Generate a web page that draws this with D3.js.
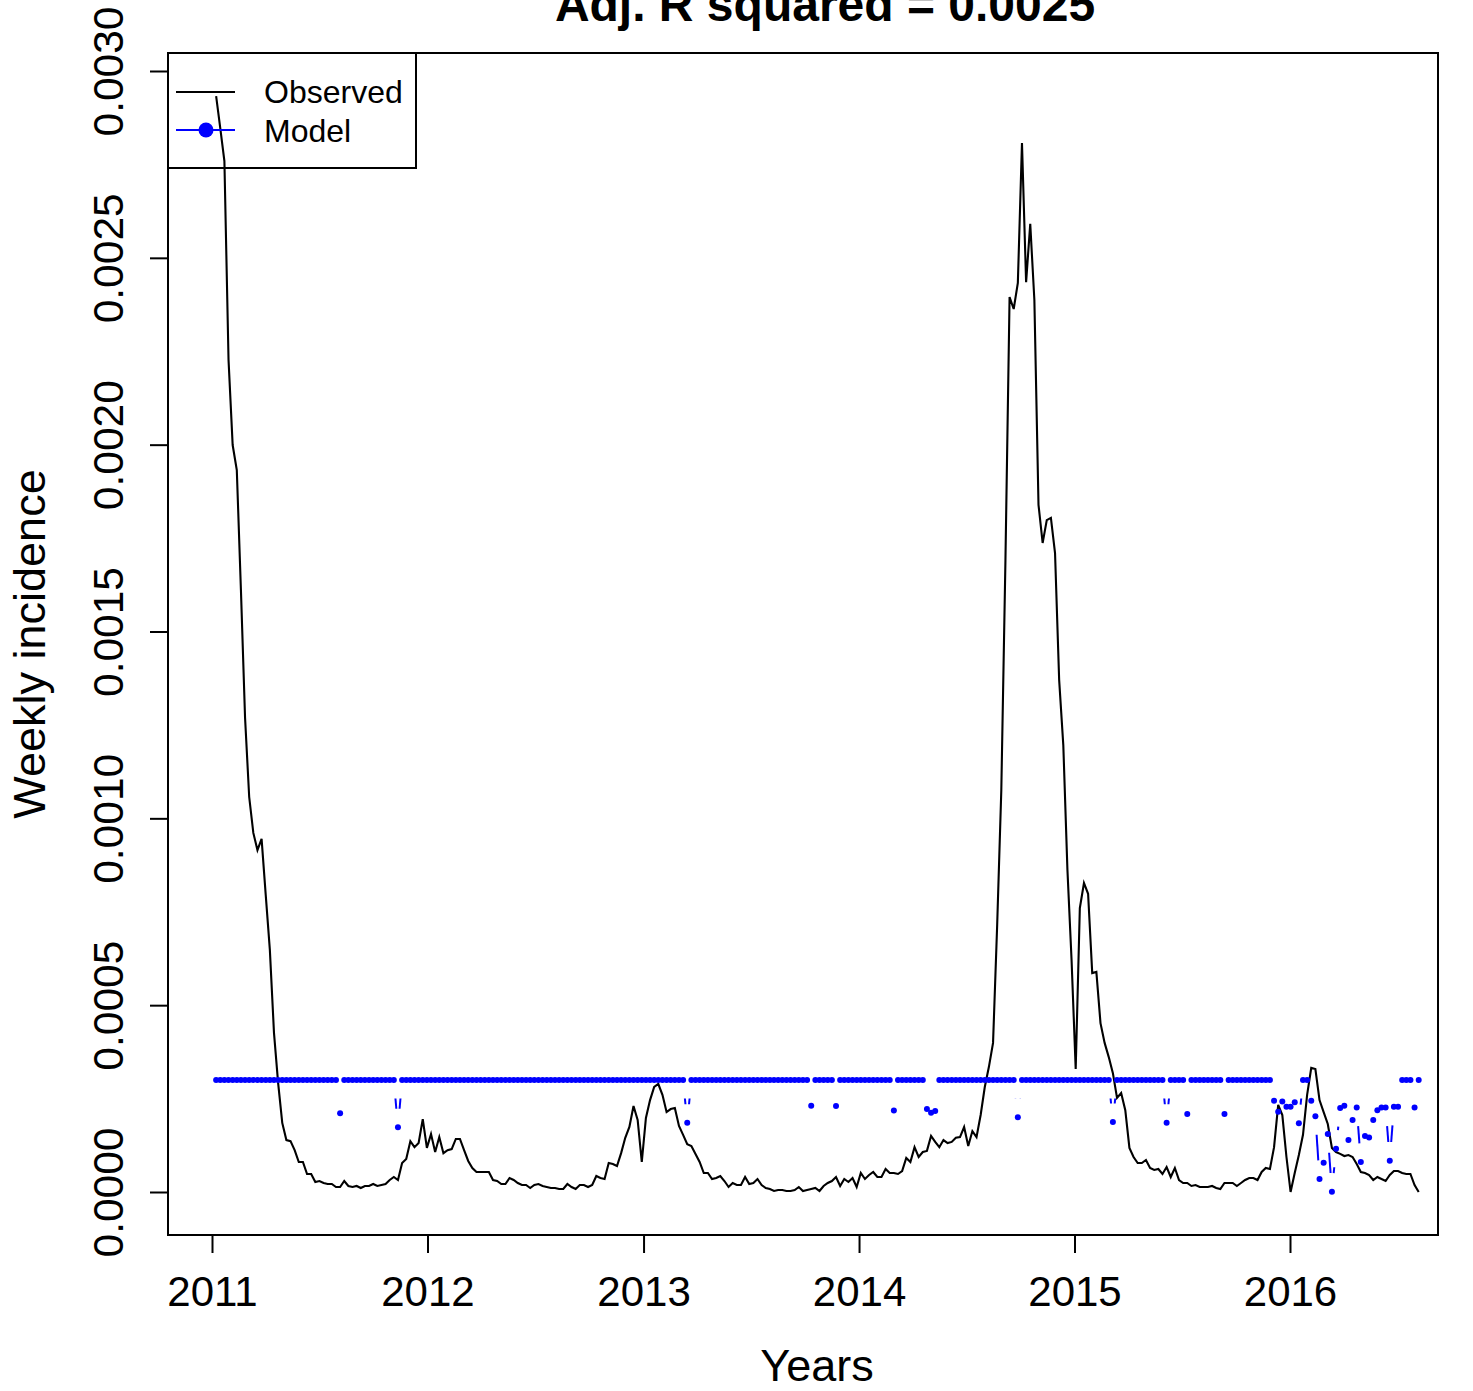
<!DOCTYPE html>
<html>
<head>
<meta charset="utf-8">
<script src="https://cdn.jsdelivr.net/npm/d3@7"></script>
<style>
  html, body { margin: 0; padding: 0; background: #fff; }
  svg { display: block; font-family: "Liberation Sans", Arial, Helvetica, sans-serif; }
</style>
</head>
<body>
<script>
// ---------------- data ----------------
const titleText = "Adj. R squared = 0.0025";
const xLabel = "Years";
const yLabel = "Weekly incidence";
const seriesNames = ["Observed", "Model"];
const firstWeek = "2011-01-08";           // first weekly observation
const yearTicks = [2011, 2012, 2013, 2014, 2015, 2016];
const yTicks = [0, 0.0005, 0.0010, 0.0015, 0.0020, 0.0025, 0.0030];

// weekly observed incidence (292 weeks)
const observed = [
  0.002933, 0.002847, 0.002759, 0.002227, 0.001999, 0.001932, 0.001611, 0.001269, 0.001057, 0.000961,
  0.000915, 0.000945, 0.000795, 0.000648, 0.000426, 0.000292, 0.000185, 0.000139, 0.000136, 0.000112,
  0.0000803, 0.0000803, 0.0000482, 0.0000482, 0.0000268, 0.0000294, 0.0000241, 0.0000214, 0.0000214, 0.0000134,
  0.0000134, 0.0000294, 0.0000161, 0.0000134, 0.0000161, 0.0000107, 0.0000161, 0.0000161, 0.0000214, 0.0000161,
  0.0000187, 0.0000214, 0.0000321, 0.0000401, 0.0000321, 0.0000776, 0.0000883, 0.000136, 0.000120, 0.000131,
  0.000195, 0.000118, 0.000155, 0.000107, 0.000147, 0.000104, 0.000112, 0.000115, 0.000142, 0.000142,
  0.000112, 0.0000830, 0.0000642, 0.0000535, 0.0000535, 0.0000535, 0.0000535, 0.0000321, 0.0000294, 0.0000214,
  0.0000214, 0.0000375, 0.0000321, 0.0000241, 0.0000187, 0.0000187, 0.0000107, 0.0000187, 0.0000214, 0.0000161,
  0.0000134, 0.0000107, 0.0000107, 0.0000080, 0.0000080, 0.0000214, 0.0000134, 0.0000080, 0.0000187, 0.0000187,
  0.0000134, 0.0000187, 0.0000428, 0.0000375, 0.0000348, 0.0000776, 0.0000749, 0.0000696, 0.000104, 0.000145,
  0.000174, 0.000230, 0.000193, 0.0000803, 0.000198, 0.000246, 0.000281, 0.000289, 0.000260, 0.000214,
  0.000222, 0.000225, 0.000177, 0.000153, 0.000128, 0.000123, 0.000102, 0.0000803, 0.0000508, 0.0000508,
  0.0000348, 0.0000375, 0.0000428, 0.0000294, 0.0000134, 0.0000241, 0.0000187, 0.0000187, 0.0000401, 0.0000214,
  0.0000241, 0.0000348, 0.0000187, 0.0000107, 0.0000080, 0.0000027, 0.0000054, 0.0000054, 0.0000027, 0.0000027,
  0.0000054, 0.0000134, 0.0000027, 0.0000054, 0.0000080, 0.0000107, 0.0000027, 0.0000161, 0.0000241, 0.0000294,
  0.0000401, 0.0000161, 0.0000348, 0.0000268, 0.0000375, 0.0000134, 0.0000508, 0.0000348, 0.0000455, 0.0000535,
  0.0000401, 0.0000401, 0.0000616, 0.0000508, 0.0000508, 0.0000482, 0.0000562, 0.0000910, 0.0000803, 0.000120,
  0.0000937, 0.000107, 0.000110, 0.000150, 0.000134, 0.000120, 0.000139, 0.000131, 0.000134, 0.000145,
  0.000147, 0.000174, 0.000123, 0.000163, 0.000147, 0.000206, 0.000281, 0.000335, 0.000399, 0.000715,
  0.001076, 0.001691, 0.002395, 0.002363, 0.002433, 0.002807, 0.002435, 0.002591, 0.002387, 0.001839,
  0.001737, 0.001798, 0.001804, 0.001710, 0.001370, 0.001196, 0.000862, 0.000621, 0.000329, 0.000760,
  0.000827, 0.000798, 0.000586, 0.000589, 0.000452, 0.000399, 0.000361, 0.000318, 0.000252, 0.000265,
  0.000219, 0.000118, 0.0000937, 0.0000776, 0.0000776, 0.0000856, 0.0000642, 0.0000589, 0.0000616, 0.0000482,
  0.0000669, 0.0000401, 0.0000642, 0.0000321, 0.0000241, 0.0000241, 0.0000161, 0.0000187, 0.0000134, 0.0000134,
  0.0000134, 0.0000161, 0.0000107, 0.0000080, 0.0000241, 0.0000241, 0.0000241, 0.0000161, 0.0000241, 0.0000321,
  0.0000375, 0.0000375, 0.0000321, 0.0000535, 0.0000642, 0.0000616, 0.000120, 0.000233, 0.000206, 0.0000937,
  0, 0.0000508, 0.0000990, 0.000153, 0.000260, 0.000332, 0.000329, 0.000246, 0.000214, 0.000182,
  0.000118, 0.000107, 0.000102, 0.0000963, 0.0000990, 0.0000937, 0.0000749, 0.0000535, 0.0000508, 0.0000455,
  0.0000321, 0.0000401, 0.0000348, 0.0000294, 0.0000455, 0.0000562, 0.0000562, 0.0000508, 0.0000482, 0.0000482,
  0.0000187, 0
];

// weekly model prediction (292 weeks)
const model = [
  3e-4, 3e-4, 3e-4, 3e-4, 3e-4, 3e-4, 3e-4, 3e-4, 3e-4, 3e-4,
  3e-4, 3e-4, 3e-4, 3e-4, 3e-4, 3e-4, 3e-4, 3e-4, 3e-4, 3e-4,
  3e-4, 3e-4, 3e-4, 3e-4, 3e-4, 3e-4, 3e-4, 3e-4, 3e-4, 3e-4,
  0.000211, 3e-4, 3e-4, 3e-4, 3e-4, 3e-4, 3e-4, 3e-4, 3e-4, 3e-4,
  3e-4, 3e-4, 3e-4, 3e-4, 0.000173, 3e-4, 3e-4, 3e-4, 3e-4, 3e-4,
  3e-4, 3e-4, 3e-4, 3e-4, 3e-4, 3e-4, 3e-4, 3e-4, 3e-4, 3e-4,
  3e-4, 3e-4, 3e-4, 3e-4, 3e-4, 3e-4, 3e-4, 3e-4, 3e-4, 3e-4,
  3e-4, 3e-4, 3e-4, 3e-4, 3e-4, 3e-4, 3e-4, 3e-4, 3e-4, 3e-4,
  3e-4, 3e-4, 3e-4, 3e-4, 3e-4, 3e-4, 3e-4, 3e-4, 3e-4, 3e-4,
  3e-4, 3e-4, 3e-4, 3e-4, 3e-4, 3e-4, 3e-4, 3e-4, 3e-4, 3e-4,
  3e-4, 3e-4, 3e-4, 3e-4, 3e-4, 3e-4, 3e-4, 3e-4, 3e-4, 3e-4,
  3e-4, 3e-4, 3e-4, 3e-4, 0.000185, 3e-4, 3e-4, 3e-4, 3e-4, 3e-4,
  3e-4, 3e-4, 3e-4, 3e-4, 3e-4, 3e-4, 3e-4, 3e-4, 3e-4, 3e-4,
  3e-4, 3e-4, 3e-4, 3e-4, 3e-4, 3e-4, 3e-4, 3e-4, 3e-4, 3e-4,
  3e-4, 3e-4, 3e-4, 3e-4, 0.000231, 3e-4, 3e-4, 3e-4, 3e-4, 3e-4,
  0.000230, 3e-4, 3e-4, 3e-4, 3e-4, 3e-4, 3e-4, 3e-4, 3e-4, 3e-4,
  3e-4, 3e-4, 3e-4, 3e-4, 0.000218, 3e-4, 3e-4, 3e-4, 3e-4, 3e-4,
  3e-4, 3e-4, 0.000222, 0.000212, 0.000217, 3e-4, 3e-4, 3e-4, 3e-4, 3e-4,
  3e-4, 3e-4, 3e-4, 3e-4, 3e-4, 3e-4, 3e-4, 3e-4, 3e-4, 3e-4,
  3e-4, 3e-4, 3e-4, 3e-4, 0.000200, 3e-4, 3e-4, 3e-4, 3e-4, 3e-4,
  3e-4, 3e-4, 3e-4, 3e-4, 3e-4, 3e-4, 3e-4, 3e-4, 3e-4, 3e-4,
  3e-4, 3e-4, 3e-4, 3e-4, 3e-4, 3e-4, 3e-4, 0.000187, 3e-4, 3e-4,
  3e-4, 3e-4, 3e-4, 3e-4, 3e-4, 3e-4, 3e-4, 3e-4, 3e-4, 3e-4,
  0.000185, 3e-4, 3e-4, 3e-4, 3e-4, 0.000209, 3e-4, 3e-4, 3e-4, 3e-4,
  3e-4, 3e-4, 3e-4, 3e-4, 0.000209, 3e-4, 3e-4, 3e-4, 3e-4, 3e-4,
  3e-4, 3e-4, 3e-4, 3e-4, 3e-4, 3e-4, 0.000244, 0.000215, 0.000242, 0.000228,
  0.000228, 0.000240, 0.000184, 3e-4, 3e-4, 0.000244, 0.000203, 0.0000348, 0.0000784, 0.000155,
  0.0000008, 0.000116, 0.000225, 0.000231, 0.000139, 0.000193, 0.000226, 0.0000803, 0.000150, 0.000146,
  0.000193, 0.000219, 0.000226, 0.000226, 0.0000838, 0.000228, 0.000228, 3e-4, 3e-4, 3e-4,
  0.000226, 3e-4
];

// ---------------- layout ----------------
const W = 1473, H = 1391;
const plot = { left: 168, right: 1438, top: 53, bottom: 1235 };
const BLUE = "#0000FF";
const FONT = "Liberation Sans, Arial, sans-serif";

const svg = d3.select("body").append("svg")
  .attr("width", W).attr("height", H)
  .attr("viewBox", `0 0 ${W} ${H}`);

const parseDay = d3.utcParse("%Y-%m-%d");
const t0 = parseDay(firstWeek);
const dates = observed.map((_, i) => d3.utcDay.offset(t0, 7 * i));

const x = d3.scaleUtc()
  .domain([new Date(Date.UTC(2011, 0, 1)), new Date(Date.UTC(2016, 0, 1))])
  .range([212, 1290]);
const y = d3.scaleLinear().domain([0, 0.003]).range([1192, 71]);

// clip to plot region
svg.append("clipPath").attr("id", "clip")
  .append("rect")
  .attr("x", plot.left).attr("y", plot.top)
  .attr("width", plot.right - plot.left).attr("height", plot.bottom - plot.top);

const g = svg.append("g").attr("clip-path", "url(#clip)");

// observed line
g.append("path")
  .datum(observed)
  .attr("fill", "none")
  .attr("stroke", "#000")
  .attr("stroke-width", 2.1)
  .attr("stroke-linejoin", "miter")
  .attr("d", d3.line().x((d, i) => x(dates[i])).y(d => y(d)));

// model: type "b" (points with gapped connecting segments)
const gap = 18.7;
const pts = model.map((d, i) => [x(dates[i]), y(d)]);
const segs = [];
for (let i = 1; i < pts.length; i++) {
  const [x1, y1] = pts[i - 1], [x2, y2] = pts[i];
  const dx = x2 - x1, dy = y2 - y1, L = Math.hypot(dx, dy);
  if (L > 2 * gap) {
    const ux = dx / L, uy = dy / L;
    segs.push([x1 + ux * gap, y1 + uy * gap, x2 - ux * gap, y2 - uy * gap]);
  }
}
g.append("g").selectAll("line").data(segs).join("line")
  .attr("x1", d => d[0]).attr("y1", d => d[1])
  .attr("x2", d => d[2]).attr("y2", d => d[3])
  .attr("stroke", BLUE).attr("stroke-width", 2);

g.append("g").selectAll("circle").data(model).join("circle")
  .attr("cx", (d, i) => x(dates[i]))
  .attr("cy", d => y(d))
  .attr("r", 3)
  .attr("fill", BLUE);

// ---------------- axes ----------------
const yAxis = svg.append("g")
  .attr("transform", `translate(${plot.left},0)`)
  .call(d3.axisLeft(y).tickValues(yTicks).tickSize(18).tickFormat(d3.format(".4f")));
yAxis.select(".domain").remove();
yAxis.selectAll(".tick line").attr("stroke", "#000").attr("stroke-width", 2);
yAxis.selectAll(".tick text")
  .attr("x", null).attr("dy", null)
  .attr("transform", "translate(-45,0) rotate(-90)")
  .attr("text-anchor", "middle")
  .attr("font-size", 42.5)
  .attr("font-family", FONT)
  .attr("fill", "#000");

const xAxis = svg.append("g")
  .attr("transform", `translate(0,${plot.bottom})`)
  .call(d3.axisBottom(x)
    .tickValues(yearTicks.map(yr => new Date(Date.UTC(yr, 0, 1))))
    .tickSize(18)
    .tickFormat(d3.utcFormat("%Y")));
xAxis.select(".domain").remove();
xAxis.selectAll(".tick line").attr("stroke", "#000").attr("stroke-width", 2);
xAxis.selectAll(".tick text")
  .attr("y", 70.5).attr("dy", null)
  .attr("font-size", 42)
  .attr("font-family", FONT)
  .attr("fill", "#000");

// plot box
svg.append("rect")
  .attr("x", plot.left).attr("y", plot.top)
  .attr("width", plot.right - plot.left).attr("height", plot.bottom - plot.top)
  .attr("fill", "none").attr("stroke", "#000").attr("stroke-width", 2);

// titles
svg.append("text")
  .attr("x", 825).attr("y", 21)
  .attr("text-anchor", "middle")
  .attr("font-size", 48).attr("font-weight", "bold")
  .text(titleText);

svg.append("text")
  .attr("x", 817).attr("y", 1381)
  .attr("text-anchor", "middle")
  .attr("font-size", 45)
  .text(xLabel);

svg.append("text")
  .attr("transform", `translate(45,${(plot.top + plot.bottom) / 2}) rotate(-90)`)
  .attr("text-anchor", "middle")
  .attr("font-size", 45)
  .text(yLabel);

// ---------------- legend ----------------
const leg = svg.append("g");
leg.append("rect")
  .attr("x", plot.left).attr("y", plot.top)
  .attr("width", 248).attr("height", 115)
  .attr("fill", "none").attr("stroke", "#000").attr("stroke-width", 2);
leg.append("line")
  .attr("x1", 176).attr("x2", 235).attr("y1", 92).attr("y2", 92)
  .attr("stroke", "#000").attr("stroke-width", 2);
leg.append("line")
  .attr("x1", 176).attr("x2", 235).attr("y1", 130).attr("y2", 130)
  .attr("stroke", BLUE).attr("stroke-width", 2);
leg.append("circle").attr("cx", 206).attr("cy", 130).attr("r", 7.5).attr("fill", BLUE);
leg.selectAll("text.lab").data(seriesNames).join("text")
  .attr("class", "lab")
  .attr("x", 264).attr("y", (d, i) => 103 + i * 39)
  .attr("font-size", 32)
  .text(d => d);
</script>
</body>
</html>
